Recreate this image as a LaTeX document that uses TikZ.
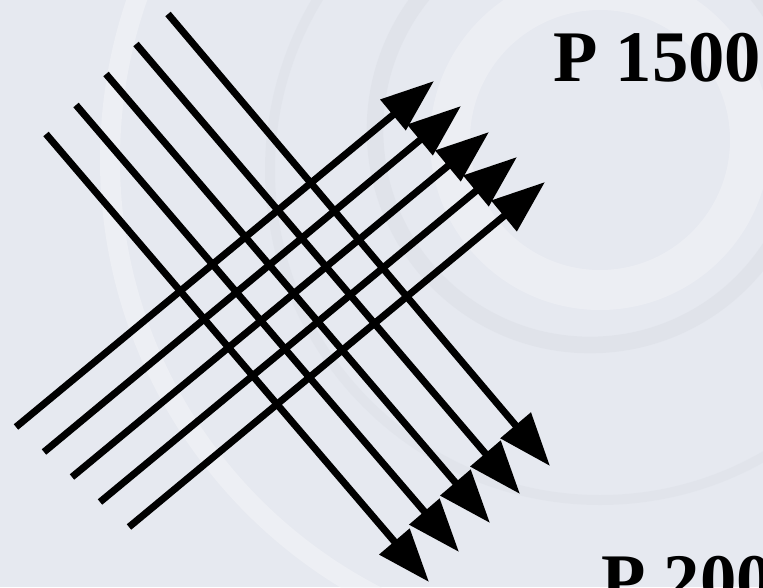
\documentclass[tikz,border=0pt]{standalone}
\usepackage{fontspec}
\setmainfont{Liberation Serif}
\usepackage{xcolor}
\usetikzlibrary{arrows.meta}
\definecolor{bgback}{RGB}{230,233,240}
\definecolor{bglight}{RGB}{244,245,248}
\definecolor{bgdark}{RGB}{212,216,223}

\begin{document}
\begin{tikzpicture}[
  x=0.03cm, y=-0.03cm,
  ray/.style={line width=0.21cm, -{Triangle[length=1.6cm, width=1.15cm]}},
  plabel/.style={font=\fontsize{62}{62}\selectfont\bfseries, anchor=base west, inner sep=0pt}
]
  % Frame and faded background
  \useasboundingbox (0,0) rectangle (763,587);
  \clip (0,0) rectangle (763,587);
  \fill[bgback] (0,0) rectangle (763,587);
  \draw[bglight, line width=0.6cm, opacity=0.5] (600,160) circle [radius=490];
  \draw[bgdark, line width=0.5cm, opacity=0.3] (590,130) circle [radius=215];
  \draw[bglight, line width=1.2cm, opacity=0.45] (600,140) circle [radius=150];
  \draw[bgdark, line width=0.3cm, opacity=0.25] (600,170) circle [radius=330];

  % End points of the falling rays
  \coordinate (d1s) at (168,14);  \coordinate (d1e) at (550,466);
  \coordinate (d2s) at (136,44);  \coordinate (d2e) at (520,494);
  \coordinate (d3s) at (106,74);  \coordinate (d3e) at (490,523);
  \coordinate (d4s) at (76,105);  \coordinate (d4e) at (459,552);
  \coordinate (d5s) at (46,134);  \coordinate (d5e) at (429,582);

  % End points of the rising rays
  \coordinate (u1s) at (16,427);  \coordinate (u1e) at (434,81);
  \coordinate (u2s) at (44,452);  \coordinate (u2e) at (461,106);
  \coordinate (u3s) at (72,477);  \coordinate (u3e) at (489,132);
  \coordinate (u4s) at (100,502); \coordinate (u4e) at (517,157);
  \coordinate (u5s) at (129,527); \coordinate (u5e) at (545,182);

  \draw[ray] (d1s) -- (d1e);
  \draw[ray] (d2s) -- (d2e);
  \draw[ray] (d3s) -- (d3e);
  \draw[ray] (d4s) -- (d4e);
  \draw[ray] (d5s) -- (d5e);

  \draw[ray] (u1s) -- (u1e);
  \draw[ray] (u2s) -- (u2e);
  \draw[ray] (u3s) -- (u3e);
  \draw[ray] (u4s) -- (u4e);
  \draw[ray] (u5s) -- (u5e);

  % Labels
  \node[plabel] (p1500) at (553,81) {P 1500};
  \node[plabel] (p200) at (601,604) {P 200};
\end{tikzpicture}
\end{document}
